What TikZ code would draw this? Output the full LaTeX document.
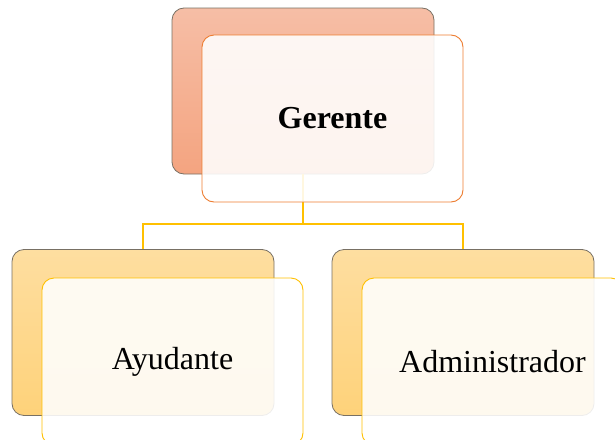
\documentclass[tikz,border=0pt]{standalone}
\usepackage{fontspec}
\setmainfont{Liberation Serif}
\definecolor{gback1}{RGB}{246,190,166}
\definecolor{gback2}{RGB}{244,164,128}
\definecolor{gline}{RGB}{237,125,49}
\definecolor{yback1}{RGB}{254,222,160}
\definecolor{yback2}{RGB}{254,210,122}
\definecolor{yline}{RGB}{255,192,0}
\definecolor{bord}{RGB}{120,112,100}
\begin{document}
\begin{tikzpicture}[x=1pt,y=-1pt,
  backbox/.style={draw=bord, line width=0.8pt, rounded corners=12pt, inner sep=0pt,
    minimum width=262pt, minimum height=166pt},
  frontbox/.style={line width=0.9pt, rounded corners=12pt, inner sep=0pt,
    fill=white, fill opacity=0.88, text opacity=1,
    minimum width=261pt, minimum height=167pt, font=\fontsize{32}{38}\selectfont},
  conn/.style={draw=yline, line width=2.8pt}
]
\useasboundingbox (0,0) rectangle (615,439);
\clip (0,0) rectangle (615,439);
% back boxes
\node[backbox, top color=gback1, bottom color=gback2] (g1) at (303,91) {};
\node[backbox, top color=yback1, bottom color=yback2] (a1) at (143,332.5) {};
\node[backbox, top color=yback1, bottom color=yback2] (b1) at (463,332.5) {};
% connectors
\coordinate (j) at (303,224);
\draw[conn] (g1.south) -- (j) -| (a1.north);
\draw[conn] (j) -| (b1.north);
% front boxes
\node[frontbox, draw=gline] (g2) at (332.5,118.5) {\textbf{Gerente}};
\node[frontbox, draw=yline] (a2) at (172.5,361.5) {Ayudante};
\node[frontbox, draw=yline] (b2) at (492.5,361.5) {Administrador};
\end{tikzpicture}
\end{document}
